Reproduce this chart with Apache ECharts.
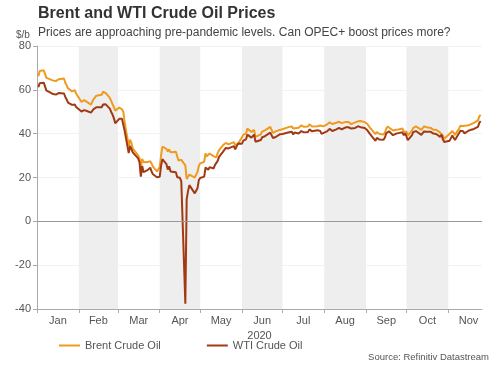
<!DOCTYPE html>
<html><head><meta charset="utf-8">
<script src="https://cdn.jsdelivr.net/npm/echarts@6/dist/echarts.min.js"></script>
<style>html,body{margin:0;padding:0;background:#fff}#c{width:500px;height:365px}</style>
</head><body><div id="c"></div>
<script>
const dates = ["01-02","01-03","01-06","01-07","01-08","01-09","01-10","01-13","01-14","01-15","01-16","01-17","01-21","01-22","01-23","01-24","01-27","01-28","01-29","01-30","01-31",
"02-03","02-04","02-05","02-06","02-07","02-10","02-11","02-12","02-13","02-14","02-18","02-19","02-20","02-21","02-24","02-25","02-26","02-27","02-28",
"03-02","03-03","03-04","03-05","03-06","03-09","03-10","03-11","03-12","03-13","03-16","03-17","03-18","03-19","03-20","03-23","03-24","03-25","03-26","03-27","03-30","03-31",
"04-01","04-02","04-03","04-06","04-07","04-08","04-09","04-13","04-14","04-15","04-16","04-17","04-20","04-21","04-22","04-23","04-24","04-27","04-28","04-29","04-30",
"05-01","05-04","05-05","05-06","05-07","05-08","05-11","05-12","05-13","05-14","05-15","05-18","05-19","05-20","05-21","05-22","05-26","05-27","05-28","05-29",
"06-01","06-02","06-03","06-04","06-05","06-08","06-09","06-10","06-11","06-12","06-15","06-16","06-17","06-18","06-19","06-22","06-23","06-24","06-25","06-26","06-29","06-30",
"07-01","07-02","07-06","07-07","07-08","07-09","07-10","07-13","07-14","07-15","07-16","07-17","07-20","07-21","07-22","07-23","07-24","07-27","07-28","07-29","07-30","07-31",
"08-03","08-04","08-05","08-06","08-07","08-10","08-11","08-12","08-13","08-14","08-17","08-18","08-19","08-20","08-21","08-24","08-25","08-26","08-27","08-28","08-31",
"09-01","09-02","09-03","09-04","09-08","09-09","09-10","09-11","09-14","09-15","09-16","09-17","09-18","09-21","09-22","09-23","09-24","09-25","09-28","09-29","09-30",
"10-01","10-02","10-05","10-06","10-07","10-08","10-09","10-12","10-13","10-14","10-15","10-16","10-19","10-20","10-21","10-22","10-23","10-26","10-27","10-28","10-29","10-30",
"11-02","11-03","11-04","11-05","11-06","11-09","11-10","11-11","11-12","11-13","11-16","11-17","11-18","11-19","11-20","11-23","11-24","11-25"];

const brent = [66.25,68.60,68.91,68.27,65.44,65.37,64.98,64.20,64.49,64.00,64.62,64.85,65.20,63.21,62.04,60.69,59.32,59.51,59.81,58.29,58.16,
54.45,53.96,55.28,55.17,54.47,53.27,54.01,55.79,56.34,57.32,57.75,59.12,59.31,58.50,56.30,54.95,53.43,52.18,50.52,
51.90,51.86,51.13,49.99,45.27,34.36,37.22,35.79,33.22,33.85,30.05,28.73,24.88,28.47,26.98,27.03,27.15,27.39,26.34,24.93,22.76,22.74,
24.74,29.94,34.11,33.05,31.87,32.84,31.48,31.74,29.60,27.69,27.82,28.08,25.57,19.33,20.37,21.33,21.44,19.99,20.46,22.54,25.27,
26.44,27.20,30.97,29.72,29.46,30.97,29.63,29.98,29.19,31.13,32.50,34.81,34.65,35.75,36.06,35.13,36.17,34.74,35.29,35.33,
38.32,39.57,39.79,39.99,42.30,40.80,41.18,41.73,38.55,38.73,39.72,40.96,40.71,41.51,42.19,43.08,42.63,40.31,41.05,41.02,41.71,41.15,
42.03,42.80,43.10,43.08,43.29,42.35,43.24,42.72,42.90,43.79,43.37,43.14,43.28,44.32,44.29,43.31,43.34,43.41,43.22,43.75,42.94,43.30,
44.15,44.43,45.17,45.09,44.40,44.99,44.50,45.43,44.96,44.80,45.37,45.46,45.37,44.90,44.35,45.13,45.86,45.64,45.09,45.81,45.28,
45.58,44.43,44.07,42.66,39.78,40.79,40.06,39.83,39.61,40.53,42.22,43.30,43.15,41.44,41.72,41.77,41.94,41.92,42.43,41.03,40.95,
40.93,39.27,41.29,42.65,41.99,43.34,42.85,41.72,42.45,43.32,43.16,42.93,42.62,43.16,41.73,42.46,41.77,40.46,41.20,39.12,37.65,37.46,
39.97,40.71,41.23,40.93,39.45,42.40,43.61,43.80,43.53,42.78,43.82,43.75,44.34,44.20,44.96,46.06,47.86,48.61];

const wti = [61.18,63.05,63.27,62.70,59.61,59.56,59.04,58.08,58.23,57.81,58.52,58.54,58.38,56.74,55.59,54.19,53.14,53.48,53.33,52.14,51.56,
50.11,49.61,50.75,50.95,50.32,49.57,49.94,51.17,51.42,52.05,52.05,53.29,53.78,53.38,51.43,49.90,48.73,47.09,44.76,
46.75,47.18,46.78,45.90,41.28,31.13,34.36,32.98,31.50,31.73,28.70,26.95,20.37,25.22,22.43,23.36,24.01,24.49,22.60,21.51,20.09,20.48,
20.31,25.32,28.34,26.08,23.63,25.09,22.76,22.41,20.11,19.87,19.87,18.27,-37.63,10.01,13.78,16.50,16.94,12.78,12.34,15.06,18.84,
19.78,20.39,24.56,23.99,23.55,24.74,24.14,25.78,25.29,27.56,29.43,31.82,32.50,33.49,33.92,33.25,34.35,32.81,33.71,35.49,
35.44,36.81,37.29,37.41,39.55,38.19,38.94,39.60,36.34,36.26,37.12,38.38,37.96,38.84,39.75,40.46,40.37,38.01,38.72,38.49,39.70,39.27,
39.82,40.65,40.63,40.62,40.90,39.62,40.55,40.10,40.29,41.20,40.75,40.59,40.81,41.96,41.90,41.07,41.29,41.60,41.04,41.27,39.92,40.27,
41.01,41.70,42.19,41.95,41.22,41.94,41.61,42.67,42.24,42.01,42.89,42.89,42.93,42.82,42.34,42.62,43.35,43.39,43.04,42.97,42.61,
42.76,41.51,41.37,39.77,36.76,38.05,37.30,37.33,37.26,38.28,40.16,40.97,41.11,39.31,39.80,39.93,40.31,40.25,40.60,39.29,40.22,
38.72,37.05,39.22,40.67,39.95,41.19,40.60,39.43,40.20,41.04,40.96,40.88,40.83,41.46,40.03,40.64,39.85,38.56,39.57,37.39,36.17,35.79,
36.81,37.66,39.15,38.79,37.14,40.29,41.36,41.45,41.12,40.13,41.34,41.43,41.82,41.74,42.15,43.06,44.91,45.71];

const monthNames = ["Jan","Feb","Mar","Apr","May","Jun","Jul","Aug","Sep","Oct","Nov"];
const shadedMonths = [1,3,5,7,9]; // Feb, Apr, Jun, Aug, Oct (0-based)
const yTicks = [-40,-20,0,20,40,60,80];
const seriesNames = ["Brent Crude Oil","WTI Crude Oil"];

const year = 2020;
const ts = (m,d) => Date.UTC(year,m,d);
const toTs = s => { const [m,d] = s.split('-').map(Number); return ts(m-1,d); };
const brentData = dates.map((d,i)=>[toTs(d),brent[i]]);
const wtiData = dates.map((d,i)=>[toTs(d),wti[i]]);
const monthStarts = monthNames.map((_,i)=>ts(i,1));
const monthMids = monthNames.map((_,i)=>(ts(i,1)+ts(i+1,1))/2);
const xMin = ts(0,1), xMax = ts(10,26);

const chart = echarts.init(document.getElementById('c'), null, {renderer:'canvas'});
const font = "'Liberation Sans', Arial, sans-serif";
chart.setOption({
  animation:false,
  textStyle:{fontFamily:font},
  grid:{left:37,right:18,top:46,bottom:56,containLabel:false},
  legend:{
    data:seriesNames, left:54, top:335, icon:'rect', itemWidth:21, itemHeight:2, itemGap:46,
    textStyle:{fontSize:11,color:'#555',fontFamily:font}
  },
  graphic:[
    {type:'text',left:38,top:6,style:{text:'Brent and WTI Crude Oil Prices',font:"bold 16px "+font,fill:'#333'}},
    {type:'text',left:38,top:27,style:{text:'Prices are approaching pre-pandemic levels. Can OPEC+ boost prices more?',font:"12px "+font,fill:'#444'}},
    {type:'text',left:16,top:30,style:{text:'$/b',font:"10px "+font,fill:'#555'}},
    {type:'text',right:11,top:352,style:{text:'Source: Refinitiv Datastream',font:"9.5px "+font,fill:'#555'}}
  ],
  xAxis:{
    type:'value', min:xMin, max:xMax,
    name:'2020', nameLocation:'middle', nameGap:13,
    nameTextStyle:{fontSize:11,color:'#555',fontFamily:font},
    axisLine:{show:true,onZero:false,lineStyle:{color:'#aaa'}},
    axisTick:{show:true,customValues:monthStarts,length:4,lineStyle:{color:'#aaa'}},
    axisLabel:{customValues:monthMids,margin:6,fontSize:11,color:'#555',fontFamily:font,
      formatter:v=>monthNames[new Date(v).getUTCMonth()]},
    splitLine:{show:false}
  },
  yAxis:{
    type:'value', min:-40, max:80, interval:20,
    axisLine:{show:true,lineStyle:{color:'#aaa'}},
    axisTick:{show:true,length:4,lineStyle:{color:'#aaa'}},
    axisLabel:{fontSize:11,color:'#555',margin:6,fontFamily:font},
    splitLine:{show:true,lineStyle:{color:'#f2f2f2'}}
  },
  series:[
    {name:seriesNames[0],type:'line',data:brentData,showSymbol:false,symbol:'none',
      lineStyle:{width:2,color:'#EE9B1F'},itemStyle:{color:'#EE9B1F'},
      markArea:{silent:true,itemStyle:{color:'#eeeeee'},
        data:shadedMonths.map(m=>[{xAxis:ts(m,1)},{xAxis:ts(m+1,1)}])},
      markLine:{silent:true,symbol:'none',label:{show:false},lineStyle:{color:'#999',width:1,type:'solid'},data:[{yAxis:0}]},
      z:3},
    {name:seriesNames[1],type:'line',data:wtiData,showSymbol:false,symbol:'none',
      lineStyle:{width:2,color:'#A13A13'},itemStyle:{color:'#A13A13'},z:4}
  ]
});
</script></body></html>
